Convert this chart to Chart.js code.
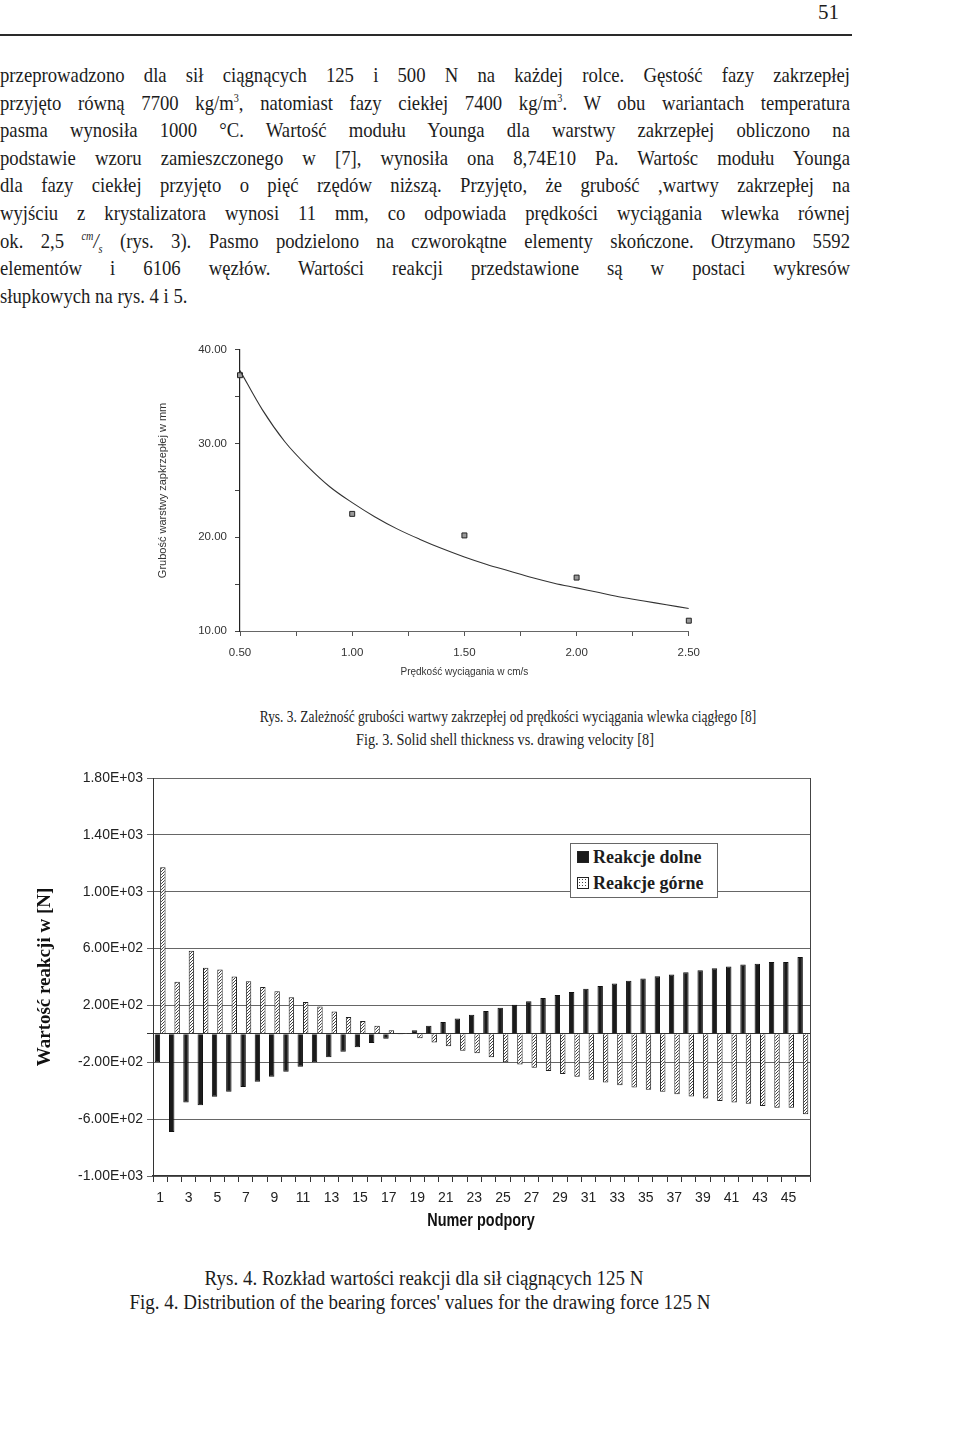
<!DOCTYPE html>
<html lang="pl">
<head>
<meta charset="utf-8">
<script src="https://cdn.jsdelivr.net/npm/chart.js@4.4.0/dist/chart.umd.min.js"></script>
<style>
body{margin:0;width:960px;height:1433px;background:#fff;position:relative;overflow:hidden;font-family:"Liberation Serif","Times New Roman",serif;color:#1c1c1c}
.abs{position:absolute}
#nr{left:818px;top:0;font-size:21px}
#kreska{left:0;top:34px;width:852px;height:2px;background:#2a2a2a}
#tekst{left:0;top:61px;width:1000px;font-size:22px;line-height:27.6px;transform:scaleX(0.85);transform-origin:0 0}
#tekst div{text-align:justify;text-align-last:justify;height:27.6px}
#tekst div.ost{text-align-last:left}
#tekst sup,#tekst sub{font-size:12px;line-height:0}
#tekst i sup,#tekst i sub{font-style:italic}
.pod{white-space:nowrap;text-align:center;width:800px;line-height:22px}
#legenda{left:570px;top:843px;width:148px;height:55px;border:1px solid #666;background:#fff;font-weight:bold;font-size:18px;line-height:26px;padding-left:6px;box-sizing:border-box}
.kw{display:inline-block;width:10px;height:10px;margin-right:4px;border:1px solid #222;vertical-align:0px}
.kw.d{background:#1a1a1a}
.kw.g{background-color:#fff;background-image:radial-gradient(#444 0.8px,transparent 1px);background-size:3px 3px}
#tytulX{left:281px;top:1209px;width:400px;text-align:center;font-family:"Liberation Sans",Arial,sans-serif;font-weight:bold;font-size:19px;transform:scaleX(0.76);color:#111}
</style>
</head>
<body>
<div class="abs" id="nr">51</div>
<div class="abs" id="kreska"></div>
<div class="abs" id="tekst">
<div>przeprowadzono dla sił ciągnących 125 i 500 N na każdej rolce. Gęstość fazy zakrzepłej</div>
<div>przyjęto równą 7700 kg/m<sup>3</sup>, natomiast fazy ciekłej 7400 kg/m<sup>3</sup>. W obu wariantach temperatura</div>
<div>pasma wynosiła 1000 °C. Wartość modułu Younga dla warstwy zakrzepłej obliczono na</div>
<div>podstawie wzoru zamieszczonego w [7], wynosiła ona 8,74E10 Pa. Wartośc modułu Younga</div>
<div>dla fazy ciekłej przyjęto o pięć rzędów niższą. Przyjęto, że grubość ,wartwy zakrzepłej na</div>
<div>wyjściu z krystalizatora wynosi 11 mm, co odpowiada prędkości wyciągania wlewka równej</div>
<div>ok. 2,5 <i><sup>cm</sup>/<sub>s</sub></i> (rys. 3). Pasmo podzielono na czworokątne elementy skończone. Otrzymano 5592</div>
<div>elementów i 6106 węzłów. Wartości reakcji przedstawione są w postaci wykresów</div>
<div class="ost">słupkowych na rys. 4 i 5.</div>
</div>

<canvas class="abs" id="wykres3" width="560" height="346" style="left:150px;top:335px"></canvas>
<div class="abs pod" style="left:108px;top:706px;font-size:17px;transform:scaleX(0.79)">Rys. 3. Zależność grubości wartwy zakrzepłej od prędkości wyciągania wlewka ciągłego [8]</div>
<div class="abs pod" style="left:105px;top:729px;font-size:17px;transform:scaleX(0.84)">Fig. 3. Solid shell thickness vs. drawing velocity [8]</div>

<canvas class="abs" id="wykres4" width="830" height="473" style="left:0;top:765px"></canvas>
<div class="abs" id="legenda">
<div><span class="kw d"></span>Reakcje dolne</div>
<div><span class="kw g"></span>Reakcje górne</div>
</div>
<div class="abs" id="tytulX">Numer podpory</div>
<div class="abs pod" style="left:24px;top:1267px;font-size:20px;transform:scaleX(0.95)">Rys. 4. Rozkład wartości reakcji dla sił ciągnących 125 N</div>
<div class="abs pod" style="left:20px;top:1291px;font-size:20px;transform:scaleX(0.95)">Fig. 4. Distribution of the bearing forces' values for the drawing force 125 N</div>

<script>
// Rys. 3 - grubosc warstwy zakrzeplej (punkty pomiarowe + krzywa)
const predkosciPunkty = [0.5, 1.0, 1.5, 2.0, 2.5];
const grubosciPunkty = [37.3, 22.5, 20.2, 15.7, 11.1];
const predkosciKrzywa = [0.5, 0.6, 0.7, 0.8, 0.9, 1.0, 1.1, 1.2, 1.3, 1.4, 1.5, 1.6, 1.7, 1.8, 1.9, 2.0, 2.1, 2.2, 2.3, 2.4, 2.5];
const grubosciKrzywa = [37.8, 33.6, 30.2, 27.6, 25.4, 23.7, 22.2, 20.9, 19.8, 18.8, 17.9, 17.1, 16.4, 15.7, 15.1, 14.6, 14.1, 13.6, 13.2, 12.8, 12.4];

// Rys. 4 - reakcje w podporach [N]
const numeryPodpor = ['1', '2', '3', '4', '5', '6', '7', '8', '9', '10', '11', '12', '13', '14', '15', '16', '17', '18', '19', '20', '21', '22', '23',
    '24', '25', '26', '27', '28', '29', '30', '31', '32', '33', '34', '35', '36', '37', '38', '39', '40', '41', '42', '43', '44', '45', '46'];
const reakcjeDolne = [-200, -691, -483, -502, -443, -408, -373, -337, -302, -266, -231, -200, -165, -125, -94, -64, -35, -5, 26, 57, 83, 108, 134,
    160, 184, 205, 229, 252, 274, 295, 318, 337, 354, 373, 389, 406, 417, 434, 448, 462, 474, 488, 493, 505, 505, 540];
const reakcjeGorne = [1172, 366, 585, 465, 453, 403, 370, 330, 300, 257, 224, 193, 158, 118, 90, 57, 26, 3, -31, -61, -87, -118, -137,
    -165, -200, -215, -238, -262, -283, -302, -323, -342, -361, -377, -394, -408, -425, -441, -455, -472, -483, -491, -507, -519, -519, -566];

const czcionkaOsi = '"Liberation Sans", Arial, sans-serif';

// zapis typu 1.80E+03
function formatE(v) {
    if (v === 0) return '0.00E+00';
    const wyk = Math.floor(Math.log10(Math.abs(v)));
    const m = (v / Math.pow(10, wyk)).toFixed(2);
    return m + 'E' + (wyk < 0 ? '-' : '+') + String(Math.abs(wyk)).padStart(2, '0');
}

// wzor kropkowany dla slupkow "gornych"
function wzorKropki() {
    const c = document.createElement('canvas');
    c.width = 3; c.height = 3;
    const g = c.getContext('2d');
    g.fillStyle = '#fff';
    g.fillRect(0, 0, 3, 3);
    g.fillStyle = '#444';
    g.fillRect(0, 0, 1, 1);
    g.fillRect(2, 1, 1, 1);
    g.fillRect(1, 2, 1, 1);
    return g.createPattern(c, 'repeat');
}

// ---------- wykres 3 ----------
new Chart(document.getElementById('wykres3'), {
    type: 'scatter',
    data: {
        datasets: [{
            data: predkosciKrzywa.map((x, i) => ({ x: x, y: grubosciKrzywa[i] })),
            showLine: true,
            tension: 0.35,
            borderColor: '#333',
            borderWidth: 1.1,
            pointRadius: 0
        }, {
            data: predkosciPunkty.map((x, i) => ({ x: x, y: grubosciPunkty[i] })),
            pointStyle: 'rect',
            pointRadius: 3.5,
            backgroundColor: '#999',
            borderColor: '#222',
            borderWidth: 1,
            clip: false
        }]
    },
    options: {
        responsive: false,
        animation: false,
        layout: { padding: { top: 10, right: 20, left: 0, bottom: 0 } },
        plugins: { legend: { display: false }, tooltip: { enabled: false } },
        scales: {
            x: {
                type: 'linear', min: 0.5, max: 2.5,
                afterFit: s => { s.height = 50; },
                grid: { drawOnChartArea: false, tickLength: 5, color: '#555' },
                border: { color: '#666', width: 1 },
                ticks: {
                    stepSize: 0.25, autoSkip: false, maxRotation: 0, padding: 10,
                    color: '#333', font: { family: czcionkaOsi, size: 11.5 },
                    callback: v => Math.abs(v * 2 - Math.round(v * 2)) < 1e-6 ? v.toFixed(2) : ''
                },
                title: {
                    display: true, text: 'Prędkość wyciągania w cm/s', color: '#333',
                    font: { family: czcionkaOsi, size: 10 }, padding: { bottom: 3 }
                }
            },
            y: {
                min: 10, max: 40,
                afterFit: s => { s.width = 90; },
                grid: { drawOnChartArea: false, tickLength: 5, color: '#444' },
                border: { color: '#222', width: 1.2 },
                ticks: {
                    stepSize: 5, padding: 8, color: '#333', font: { family: czcionkaOsi, size: 11.5 },
                    callback: v => v % 10 === 0 ? v.toFixed(2) : ''
                },
                title: {
                    display: true, text: 'Grubość warstwy zapkrzepłej w mm', color: '#333',
                    font: { family: czcionkaOsi, size: 11 }, padding: { top: 6 }
                }
            }
        }
    }
});

// ---------- wykres 4 ----------
const ramka = {
    id: 'ramka',
    afterDraw(chart) {
        const { ctx, chartArea: a } = chart;
        ctx.save();
        ctx.strokeStyle = '#444';
        ctx.lineWidth = 1;
        ctx.beginPath();
        ctx.moveTo(a.right + 0.5, a.top);
        ctx.lineTo(a.right + 0.5, a.bottom);
        ctx.stroke();
        ctx.restore();
    }
};

const kolorSiatki = ctx => {
    const v = ctx.tick ? ctx.tick.value : null;
    if (v === 0) return '#333';
    if ((v + 1000) % 400 === 0) return '#666';
    return 'rgba(0,0,0,0)';
};

new Chart(document.getElementById('wykres4'), {
    type: 'bar',
    data: {
        labels: numeryPodpor,
        datasets: [{
            label: 'Reakcje dolne',
            data: reakcjeDolne,
            backgroundColor: '#1a1a1a',
            borderColor: '#111',
            borderWidth: 1
        }, {
            label: 'Reakcje górne',
            data: reakcjeGorne,
            backgroundColor: wzorKropki(),
            borderColor: '#222',
            borderWidth: 1
        }]
    },
    options: {
        responsive: false,
        animation: false,
        categoryPercentage: 0.76,
        barPercentage: 1.0,
        layout: { padding: { top: 13, right: 20, left: 0, bottom: 0 } },
        plugins: { legend: { display: false }, tooltip: { enabled: false } },
        scales: {
            x: {
                afterFit: s => { s.height = 62; },
                grid: { offset: true, drawOnChartArea: false, tickLength: 6, color: '#333' },
                border: { color: '#333', width: 1.2 },
                ticks: {
                    autoSkip: false, maxRotation: 0, padding: 8, color: '#222',
                    font: { family: czcionkaOsi, size: 14 },
                    callback: (v, i) => i % 2 === 0 ? numeryPodpor[i] : ''
                }
            },
            y: {
                min: -1000, max: 1800,
                afterFit: s => { s.width = 153; },
                grid: { color: kolorSiatki, tickColor: kolorSiatki, tickLength: 6, lineWidth: 1 },
                border: { color: '#333', width: 1 },
                ticks: {
                    stepSize: 200, padding: 4, color: '#222', font: { family: czcionkaOsi, size: 14 },
                    callback: v => (v + 1000) % 400 === 0 ? formatE(v) : ''
                },
                title: {
                    display: true, text: 'Wartość reakcji w [N]', color: '#111',
                    font: { family: '"Liberation Serif", "Times New Roman", serif', size: 19, weight: 'bold' },
                    padding: { top: 34 }
                }
            }
        }
    },
    plugins: [ramka]
});
</script>
</body>
</html>
